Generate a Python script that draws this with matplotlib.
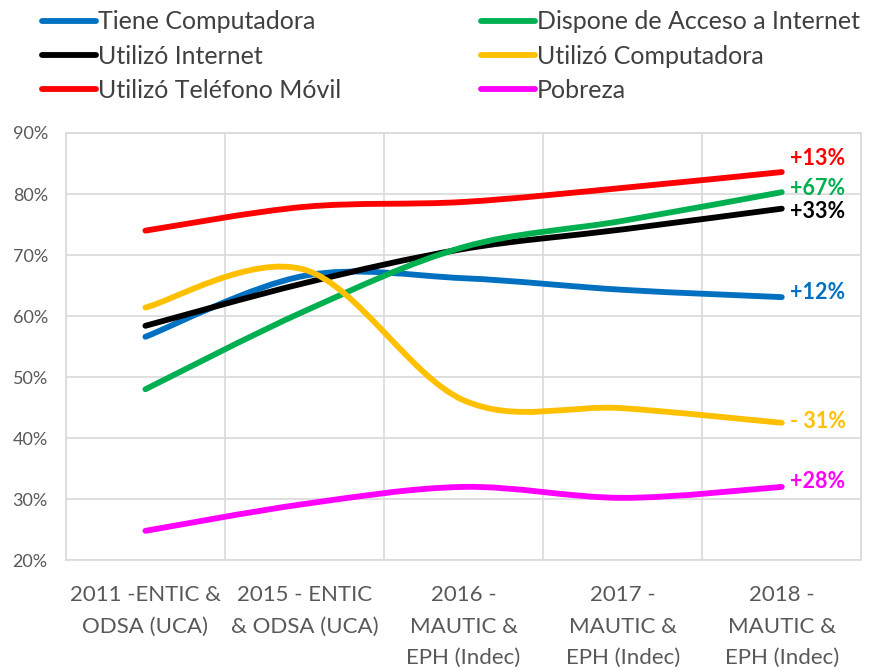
import numpy as np
import matplotlib.pyplot as plt
from matplotlib.path import Path
from matplotlib.patches import PathPatch
from matplotlib.lines import Line2D
from matplotlib.ticker import PercentFormatter

plt.rcParams['font.family'] = ['Lato', 'DejaVu Sans']

categories = ['2011 -ENTIC &\nODSA (UCA)', '2015 - ENTIC\n& ODSA (UCA)',
              '2016 -\nMAUTIC &\nEPH (Indec)', '2017 -\nMAUTIC &\nEPH (Indec)',
              '2018 -\nMAUTIC &\nEPH (Indec)']

tiene_computadora = [56.6, 66.6, 66.2, 64.3, 63.1]
utilizo_internet = [58.4, 65.4, 71.0, 74.2, 77.6]
utilizo_movil = [74.0, 77.9, 78.7, 81.0, 83.6]
acceso_internet = [48.0, 60.8, 71.3, 75.6, 80.3]
utilizo_computadora = [61.4, 67.6, 46.2, 44.9, 42.5]
pobreza = [24.8, 29.2, 32.0, 30.2, 32.0]

series_names = ['Tiene Computadora', 'Utilizó Internet', 'Utilizó Teléfono Móvil',
                'Dispone de Acceso a Internet', 'Utilizó Computadora', 'Pobreza']
series_values = [tiene_computadora, utilizo_internet, utilizo_movil,
                 acceso_internet, utilizo_computadora, pobreza]
series_colors = ['#0070C0', '#000000', '#FF0000', '#00B050', '#FFC000', '#FF00FF']
change_labels = ['+12%', '+33%', '+13%', '+67%', '- 31%', '+28%']
label_offsets = [3, -2, 10, 3, 1, 4]


def smooth_path(xs, ys):
    # excel-like smoothed line, drawn as cubic bezier segments
    pts = np.column_stack([xs, ys]).astype(float)
    verts = [pts[0]]
    codes = [Path.MOVETO]
    n = len(pts)
    for i in range(n - 1):
        p_prev = pts[i - 1] if i > 0 else pts[i]
        p_next = pts[i + 2] if i + 2 < n else pts[i + 1]
        c1 = pts[i] + (pts[i + 1] - p_prev) / 6
        c2 = pts[i + 1] - (p_next - pts[i]) / 6
        verts += [c1, c2, pts[i + 1]]
        codes += [Path.CURVE4] * 3
    return Path(verts, codes)


fig, ax = plt.subplots(figsize=(8.78, 6.7), dpi=100)
fig.subplots_adjust(left=0.075, right=0.981, bottom=0.164, top=0.8015)

x = np.arange(len(categories))
handles = []
for vals, col, name, lab, off in zip(series_values, series_colors, series_names,
                                     change_labels, label_offsets):
    ax.add_patch(PathPatch(smooth_path(x, vals), fill=False, edgecolor=col,
                           lw=4.2, capstyle='round', joinstyle='round', zorder=3))
    ax.annotate(lab, xy=(x[-1], vals[-1]), xytext=(6, off), textcoords='offset points',
                color=col, fontsize=15.5, fontweight='bold', va='center', ha='left')
    handles.append(Line2D([], [], color=col, lw=4.2, solid_capstyle='round', label=name))

ax.set_xlim(-0.5, len(categories) - 0.5)
ax.set_ylim(20, 90)
ax.set_yticks(np.arange(20, 91, 10))
ax.yaxis.set_major_formatter(PercentFormatter(decimals=0))
ax.set_xticks(x)
ax.set_xticklabels(categories, linespacing=1.72)
ax.set_xticks(np.arange(-0.5, len(categories)), minor=True)
ax.grid(True, which='major', axis='y', color='#d9d9d9', lw=1.2)
ax.grid(True, which='minor', axis='x', color='#d9d9d9', lw=1.2)
ax.tick_params(which='both', length=0)
ax.tick_params(axis='y', labelsize=13, labelcolor='#595959', pad=13)
ax.tick_params(axis='x', labelsize=16, labelcolor='#595959', pad=18)
for s in ax.spines.values():
    s.set_color('#d9d9d9')
    s.set_linewidth(1.2)

fig.legend(handles=handles, ncol=2, loc='upper left', bbox_to_anchor=(0.022, 1.018),
           frameon=False, fontsize=18, handlelength=2.15, handletextpad=0.08,
           columnspacing=5.6, labelspacing=0.45, labelcolor='#404040')

fig.savefig('out.png', dpi=100)
